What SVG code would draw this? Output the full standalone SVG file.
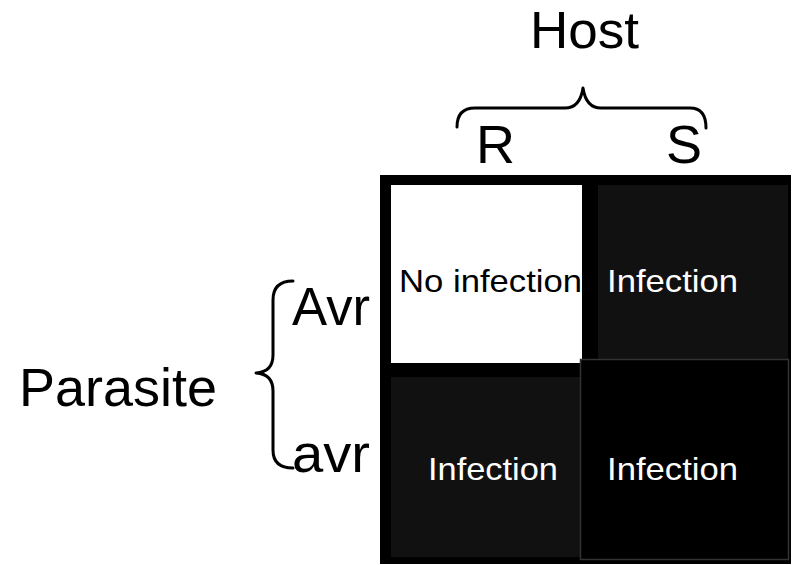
<svg xmlns="http://www.w3.org/2000/svg" width="795" height="565" viewBox="0 0 795 565">
<style>
.lbl{font-family:"Liberation Sans",Arial,sans-serif;font-size:54px;fill:#000}
.cell{font-family:"Liberation Sans",Arial,sans-serif;font-size:32px}
.brace{fill:none;stroke:#000;stroke-width:3;stroke-linecap:round;stroke-linejoin:round}
</style>
<rect width="795" height="565" fill="#fff"/>
<g id="labels">
<text class="lbl" x="530" y="48" style="font-size:52px" textLength="109" lengthAdjust="spacingAndGlyphs">Host</text>
<text class="lbl" x="476" y="163">R</text>
<text class="lbl" x="666" y="163">S</text>
<text class="lbl" x="19" y="406" textLength="198" lengthAdjust="spacingAndGlyphs">Parasite</text>
<text class="lbl" x="292" y="325" textLength="78" lengthAdjust="spacingAndGlyphs">Avr</text>
<text class="lbl" x="292" y="472" textLength="78" lengthAdjust="spacingAndGlyphs">avr</text>
</g>
<g id="connectors">
<path class="brace" d="M457,127 Q457,108 475,108 L565,108 Q580,108 583,88 Q586,108 601,108 L690,108 Q706,108 706,128"/>
<path class="brace" d="M293,281 Q273,281 273,300 L273,355 Q273,372 256,373 Q273,374 273,391 L273,450 Q273,468 293,468"/>
</g>
<g id="grid">
<rect x="380" y="175" width="411" height="389" fill="#000"/>
</g>
<g id="cell-Avr-R">
<rect x="391" y="185" width="191" height="178" fill="#fff"/>
<text class="cell" x="399" y="292" fill="#000" textLength="183" lengthAdjust="spacingAndGlyphs">No infection</text>
</g>
<g id="cell-Avr-S">
<rect x="598" y="185" width="190" height="175" fill="#111"/>
<text class="cell" x="607" y="292" fill="#fff" textLength="131" lengthAdjust="spacingAndGlyphs">Infection</text>
</g>
<g id="cell-avr-R">
<rect x="391" y="377" width="190" height="180" fill="#111"/>
<text class="cell" x="428" y="480" fill="#fff" textLength="130" lengthAdjust="spacingAndGlyphs">Infection</text>
</g>
<g id="cell-avr-S">
<rect x="580.5" y="359.5" width="208" height="200" fill="#000" stroke="#333" stroke-width="1.5"/>
<text class="cell" x="607" y="480" fill="#fff" textLength="131" lengthAdjust="spacingAndGlyphs">Infection</text>
</g>
</svg>
